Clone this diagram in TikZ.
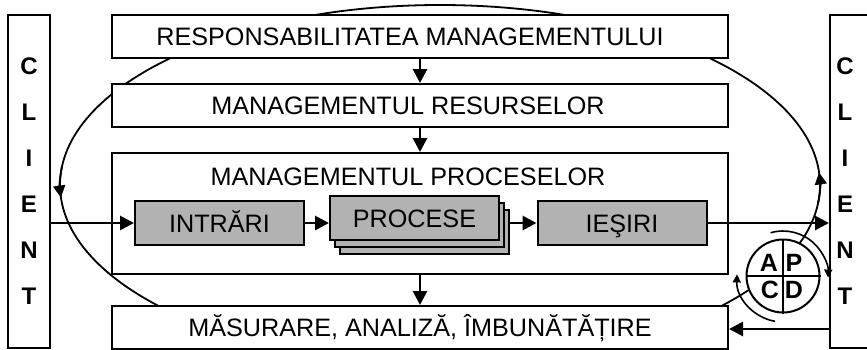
\documentclass[tikz,border=0pt]{standalone}
\usepackage{fontspec}
\setmainfont{Liberation Sans}
\usetikzlibrary{positioning,calc,arrows.meta}

\begin{document}
\begin{tikzpicture}[x=0.5pt, y=-0.5pt,
  lbl/.style={inner sep=0pt, font=\fontsize{12.6}{15}\selectfont, text height=9pt, text depth=0pt},
  box/.style={lbl, draw, line width=1pt, fill=white, minimum width=308pt, minimum height=21.5pt},
  gbox/.style={box, fill=gray!60, minimum width=84.5pt, minimum height=22pt},
  client/.style={draw, line width=1pt, fill=white, minimum height=166.5pt, inner sep=0pt,
                 align=center, font=\bfseries\fontsize{12}{23}\selectfont},
  arr/.style={-{Triangle[length=7pt,width=7pt]}, line width=1.4pt},
  loopline/.style={line width=0.9pt},
  larr/.style={loopline, -{Triangle[length=6pt,width=6pt]}},
  cyc/.style={line width=0.8pt, -{Triangle[length=4pt,width=4pt]}},
  pdcalbl/.style={font=\bfseries\fontsize{12.5}{14}\selectfont, inner sep=0pt}
]
\useasboundingbox (0,0) rectangle (867,349);

% improvement loop, behind the boxes
\coordinate (loopc) at (440,185);
\draw[loopline] (loopc) ellipse [x radius=190pt, y radius=90pt];
\draw[larr] (loopc) ++(174:190pt and 90pt)
  arc[start angle=174, end angle=184, x radius=190pt, y radius=90pt];
\draw[larr] (loopc) ++(-6:190pt and 90pt)
  arc[start angle=-6, end angle=4, x radius=190pt, y radius=90pt];

% client columns
\node[client, minimum width=21pt] (clientL) at (29,181.5) {C\\L\\I\\E\\N\\T};
\node[client, minimum width=25pt] (clientR) at (855,181.5) {};
\node[client, draw=none, fill=none] (clientRtxt) at (845,181.5) {C\\L\\I\\E\\N\\T};

% management levels
\node[box] (resp) at (420,36.5) {RESPONSABILITATEA MANAGEMENTULUI\kern10pt};
\node[box] (res) at (420,105.5) {MANAGEMENTUL RESURSELOR\kern12pt};
\node[box, minimum height=60.5pt] (procm) at (420,213.5) {};
\node[lbl] (proclbl) at (408,176) {MANAGEMENTUL PROCESELOR};
\node[box] (masur) at (420,327.5) {MĂSURARE, ANALIZĂ, ÎMBUNĂTĂȚIRE};

% process chain
\node[gbox] (intr) at (219.5,223) {INTRĂRI};
\node[gbox] (proc3) at (424.5,232) {};
\node[gbox] (proc2) at (419.5,225) {};
\node[gbox] (proc1) at (414.5,218) {PROCESE};
\node[gbox] (iesiri) at (622,223) {IEŞIRI};

\draw[arr] (resp) -- (res);
\draw[arr] (res) -- (procm);
\draw[arr] (procm) -- (masur);
\draw[arr] (intr -| clientL.east) -- (intr.west);
\draw[arr] (intr) -- (intr -| proc1.west);
\draw[arr] (iesiri -| proc3.east) -- (iesiri);
\draw[arr] (iesiri) -- (iesiri -| clientR.west);
\draw[arr] ($(masur -| clientR.west)+(0,1.5)$) -- ($(masur.east)+(0,1.5)$);

% PDCA wheel
\node[draw, circle, line width=1pt, fill=white, minimum size=36.5pt, inner sep=0pt] (pdca) at (783,276) {};
\draw[line width=1pt] (pdca.north) -- (pdca.south);
\draw[line width=1pt] (pdca.west) -- (pdca.east);
\node[pdcalbl] (pa) at (769,263) {A};
\node[pdcalbl] (pp) at (794,263) {P};
\node[pdcalbl] (pc) at (770,290) {C};
\node[pdcalbl] (pd) at (794,290) {D};
\draw[cyc] (pdca.center) ++(106:22.5pt) arc[start angle=106, end angle=-2, radius=22.5pt];
\draw[cyc] (pdca.center) ++(260:23pt) arc[start angle=260, end angle=178, radius=23pt];
\end{tikzpicture}
\end{document}
